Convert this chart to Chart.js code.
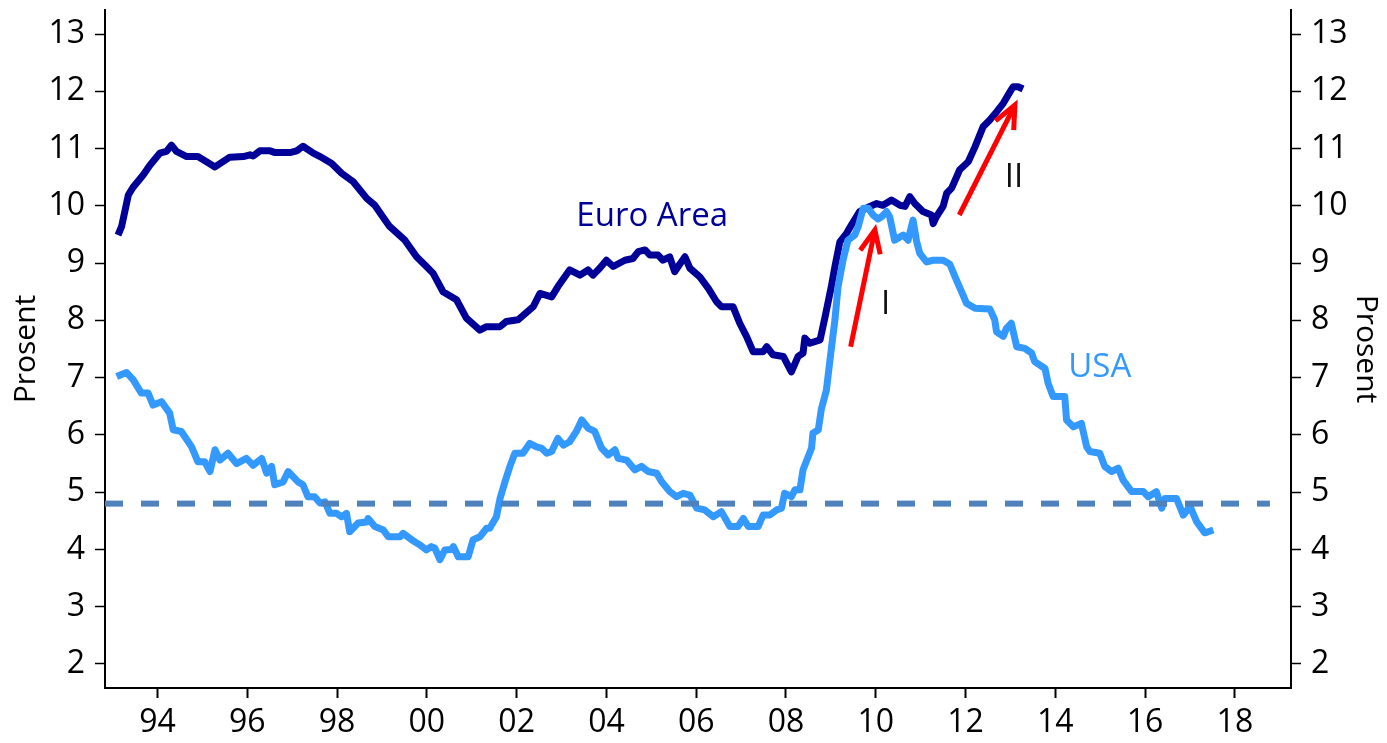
<!DOCTYPE html>
<html>
<head>
<meta charset="utf-8">
<script src="https://cdn.jsdelivr.net/npm/chart.js@4/dist/chart.umd.min.js"></script>
<style>
html,body{margin:0;padding:0;background:#fff;}
#wrap{width:1387px;height:743px;position:relative;}
</style>
</head>
<body>
<div id="wrap"><canvas id="c"></canvas></div>
<script>
// ---- Data (decimal years, percent) ----
const euroYears = [1993.12,1993.20,1993.35,1993.46,1993.68,1993.83,1994.05,1994.20,1994.31,1994.42,1994.65,1994.90,1995.28,1995.61,1995.91,1996.06,1996.13,1996.28,1996.51,1996.62,1996.95,1997.10,1997.24,1997.47,1997.62,1997.88,1998.10,1998.36,1998.66,1998.84,1998.99,1999.17,1999.51,1999.77,1999.99,2000.14,2000.36,2000.66,2000.88,2001.18,2001.33,2001.63,2001.77,2002.03,2002.37,2002.52,2002.78,2002.92,2003.18,2003.41,2003.59,2003.70,2003.85,2004.00,2004.15,2004.41,2004.59,2004.71,2004.86,2004.97,2005.15,2005.26,2005.41,2005.52,2005.64,2005.75,2005.86,2006.08,2006.27,2006.45,2006.56,2006.82,2006.97,2007.12,2007.27,2007.49,2007.57,2007.71,2007.94,2008.12,2008.27,2008.38,2008.42,2008.53,2008.76,2008.87,2009.01,2009.09,2009.20,2009.35,2009.46,2009.64,2009.87,2010.02,2010.16,2010.35,2010.54,2010.65,2010.76,2010.87,2011.05,2011.24,2011.28,2011.35,2011.50,2011.58,2011.69,2011.87,2012.06,2012.21,2012.39,2012.54,2012.69,2012.84,2012.99,2013.06,2013.17,2013.28];
const euroValues = [9.49,9.64,10.19,10.33,10.54,10.71,10.92,10.95,11.06,10.95,10.86,10.86,10.68,10.85,10.86,10.89,10.87,10.96,10.96,10.93,10.93,10.96,11.04,10.92,10.86,10.74,10.57,10.42,10.13,10.01,9.84,9.64,9.40,9.11,8.94,8.82,8.50,8.36,8.04,7.83,7.89,7.89,7.98,8.01,8.24,8.47,8.41,8.59,8.88,8.79,8.88,8.79,8.91,9.05,8.94,9.05,9.08,9.20,9.23,9.14,9.14,9.05,9.11,8.85,8.99,9.11,8.91,8.76,8.56,8.33,8.24,8.24,7.95,7.72,7.45,7.45,7.54,7.40,7.37,7.10,7.37,7.43,7.69,7.60,7.66,8.06,8.59,8.94,9.37,9.52,9.67,9.90,9.99,10.04,10.01,10.10,10.01,9.99,10.16,10.04,9.90,9.84,9.69,9.81,9.99,10.22,10.31,10.63,10.77,11.03,11.38,11.50,11.64,11.79,11.99,12.08,12.08,12.04];

const usaYears = [1993.09,1993.31,1993.46,1993.64,1993.79,1993.90,1994.09,1994.27,1994.35,1994.53,1994.76,1994.90,1995.05,1995.17,1995.28,1995.39,1995.57,1995.76,1995.98,1996.13,1996.32,1996.43,1996.54,1996.61,1996.80,1996.91,1997.13,1997.24,1997.35,1997.50,1997.62,1997.73,1997.84,1997.99,1998.10,1998.21,1998.28,1998.47,1998.66,1998.69,1998.84,1999.03,1999.14,1999.40,1999.47,1999.66,1999.84,1999.99,2000.10,2000.18,2000.29,2000.40,2000.55,2000.59,2000.70,2000.92,2001.03,2001.18,2001.33,2001.40,2001.55,2001.63,2001.74,2001.85,2001.96,2002.14,2002.29,2002.44,2002.55,2002.67,2002.78,2002.92,2003.04,2003.18,2003.33,2003.45,2003.59,2003.74,2003.89,2004.04,2004.19,2004.26,2004.45,2004.63,2004.78,2004.93,2005.12,2005.23,2005.41,2005.56,2005.71,2005.86,2006.01,2006.19,2006.38,2006.56,2006.75,2006.93,2007.05,2007.16,2007.38,2007.49,2007.64,2007.79,2007.90,2007.97,2008.12,2008.20,2008.31,2008.38,2008.57,2008.60,2008.72,2008.79,2008.90,2008.98,2009.09,2009.16,2009.27,2009.38,2009.53,2009.61,2009.72,2009.83,2009.94,2010.05,2010.13,2010.24,2010.31,2010.42,2010.61,2010.72,2010.83,2010.91,2010.98,2011.13,2011.28,2011.50,2011.65,2011.80,2011.91,2012.02,2012.21,2012.54,2012.65,2012.69,2012.84,2012.91,2013.02,2013.14,2013.32,2013.47,2013.54,2013.77,2013.84,2013.95,2014.21,2014.25,2014.40,2014.58,2014.70,2014.77,2014.99,2015.10,2015.25,2015.40,2015.51,2015.70,2015.96,2016.07,2016.25,2016.37,2016.44,2016.70,2016.85,2017.00,2017.15,2017.33,2017.52];
const usaValues = [7.02,7.09,6.96,6.73,6.73,6.52,6.58,6.38,6.09,6.06,5.79,5.53,5.53,5.36,5.74,5.56,5.68,5.50,5.59,5.47,5.59,5.33,5.45,5.13,5.18,5.36,5.18,5.13,4.92,4.92,4.81,4.83,4.63,4.63,4.57,4.63,4.31,4.46,4.48,4.54,4.40,4.34,4.22,4.22,4.28,4.17,4.08,3.99,4.05,4.02,3.82,3.99,4.00,4.05,3.87,3.87,4.17,4.22,4.37,4.37,4.57,4.89,5.18,5.45,5.68,5.68,5.85,5.79,5.77,5.68,5.71,5.94,5.82,5.88,6.06,6.26,6.12,6.06,5.77,5.65,5.74,5.59,5.56,5.39,5.45,5.36,5.33,5.18,5.01,4.92,4.98,4.95,4.72,4.69,4.57,4.66,4.40,4.40,4.54,4.40,4.40,4.60,4.60,4.69,4.72,4.98,4.92,5.04,5.04,5.39,5.77,6.03,6.09,6.46,6.78,7.31,8.01,8.59,9.05,9.40,9.49,9.64,9.96,9.96,9.84,9.77,9.81,9.90,9.81,9.40,9.49,9.40,9.75,9.38,9.17,9.02,9.05,9.05,8.98,8.70,8.50,8.30,8.21,8.20,8.01,7.80,7.72,7.86,7.95,7.54,7.51,7.43,7.28,7.16,6.90,6.67,6.67,6.26,6.14,6.20,5.79,5.71,5.68,5.45,5.36,5.42,5.21,5.01,5.01,4.92,5.01,4.72,4.89,4.89,4.60,4.75,4.48,4.29,4.34];

const refLevel = 4.8;            // dashed reference level
const refEndYear = 2018.78;
const xTickYears = [1994,1996,1998,2000,2002,2004,2006,2008,2010,2012,2014,2016,2018];
const yTickValues = [2,3,4,5,6,7,8,9,10,11,12,13];
const axisTitle = 'Prosent';

const X_MIN = 1992.83, X_MAX = 2019.25, Y_MIN = 1.58, Y_MAX = 13.42;

// annotations in data coordinates
const textLabels = [
  {text:'Euro Area', x:2005.02, y:9.81, color:'#000099'},
  {text:'USA',       x:2014.99, y:7.17, color:'#3399ff'},
  {text:'I',         x:2010.22, y:8.27, color:'#111111'},
  {text:'II',        x:2013.08, y:10.49, color:'#111111'}
];
const arrows = [
  {x0:2009.44, y0:7.54, x1:2009.98, y1:9.58},
  {x0:2011.86, y0:9.84, x1:2013.10, y1:11.76}
];

const FONT = "'Open Sans', 'Noto Sans', sans-serif";

const pts = (xs, ys) => xs.map((x,i)=>({x:x, y:ys[i]}));

const annotPlugin = {
  id:'annot',
  afterDatasetsDraw(chart){
    const {ctx, scales:{x, y}} = chart;
    ctx.save();
    ctx.strokeStyle = '#ff0000';
    ctx.lineWidth = 5;
    ctx.lineCap = 'butt';
    arrows.forEach(a=>{
      const px0 = x.getPixelForValue(a.x0), py0 = y.getPixelForValue(a.y0);
      const px1 = x.getPixelForValue(a.x1), py1 = y.getPixelForValue(a.y1);
      const ang = Math.atan2(py1-py0, px1-px0);
      ctx.beginPath();
      ctx.moveTo(px0,py0); ctx.lineTo(px1 - Math.cos(ang)*2, py1 - Math.sin(ang)*2);
      ctx.stroke();
      const hl = 25, ha = 0.42;
      ctx.beginPath();
      ctx.moveTo(px1 - hl*Math.cos(ang-ha), py1 - hl*Math.sin(ang-ha));
      ctx.lineTo(px1, py1);
      ctx.lineTo(px1 - hl*Math.cos(ang+ha), py1 - hl*Math.sin(ang+ha));
      ctx.stroke();
    });
    ctx.font = "33px " + FONT;
    ctx.textAlign = 'center';
    ctx.textBaseline = 'middle';
    textLabels.forEach(t=>{
      ctx.fillStyle = t.color;
      ctx.fillText(t.text, x.getPixelForValue(t.x), y.getPixelForValue(t.y));
    });
    ctx.restore();
  }
};

function fixY(w){
  return function(s){ s.width = w; s.paddingTop = 0; s.paddingBottom = 0; };
}

const yCommon = (pos, w, titlePad) => ({
  type:'linear', position:pos, min:Y_MIN, max:Y_MAX,
  afterBuildTicks: s => { s.ticks = yTickValues.map(v=>({value:v})); },
  afterFit: fixY(w),
  ticks:{ color:'#000', font:{family:FONT, size:32}, padding:10 },
  grid:{ drawOnChartArea:false, tickLength:10, tickColor:'#000', tickWidth:1.5 },
  border:{ display:true, color:'#000', width:2 },
  title:{ display:true, text:axisTitle, color:'#000', font:{family:FONT, size:30}, padding:{top:titlePad, bottom:0} }
});

new Chart(document.getElementById('c'), {
  type:'line',
  data:{
    datasets:[
      { label:'ref', data:[{x:X_MIN, y:refLevel},{x:refEndYear, y:refLevel}],
        borderColor:'#4f81bd', borderWidth:6, borderDash:[18,18], pointRadius:0, order:0, yAxisID:'y' },
      { label:'USA', data:pts(usaYears, usaValues), borderColor:'#3399ff', borderWidth:7,
        pointRadius:0, tension:0, borderJoinStyle:'round', order:1, yAxisID:'y' },
      { label:'Euro Area', data:pts(euroYears, euroValues), borderColor:'#000099', borderWidth:7,
        pointRadius:0, tension:0, borderJoinStyle:'round', order:2, yAxisID:'y' }
    ]
  },
  options:{
    responsive:true, maintainAspectRatio:false, animation:false,
    layout:{ padding:{top:10, left:0, right:0, bottom:0} },
    plugins:{ legend:{display:false}, tooltip:{enabled:false} },
    scales:{
      x:{
        type:'linear', min:X_MIN, max:X_MAX,
        afterBuildTicks: s => { s.ticks = xTickYears.map(v=>({value:v})); },
        afterFit: s => { s.height = 55; s.paddingLeft = 0; s.paddingRight = 0; },
        ticks:{ color:'#000', font:{family:FONT, size:32}, padding:6, maxRotation:0,
          callback: v => String(Math.round(v) % 100).padStart(2,'0') },
        grid:{ drawOnChartArea:false, tickLength:10, tickColor:'#000', tickWidth:2 },
        border:{ display:true, color:'#000', width:2 }
      },
      y: yCommon('left', 105, 8),
      y2: yCommon('right', 96, 3)
    }
  },
  plugins:[annotPlugin]
});
</script>
</body>
</html>
